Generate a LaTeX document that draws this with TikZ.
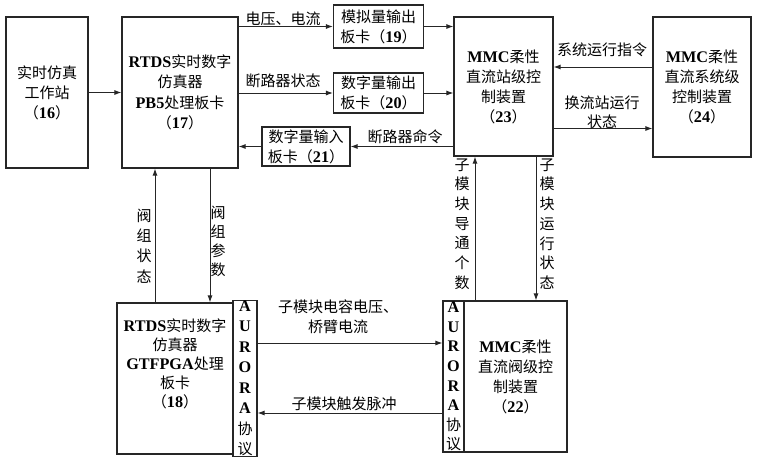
\documentclass[tikz,border=0pt]{standalone}
\usepackage{fontspec}
\setmainfont{Noto Sans CJK SC}
\newfontfamily\latin[Scale=1.08]{Liberation Serif}
\usetikzlibrary{arrows.meta}
\newcommand\B[1]{{\latin\bfseries #1}}
\newcommand\Num[1]{（\B{#1}）}
\begin{document}
\begin{tikzpicture}[x=1pt,y=-1pt,
  box/.style={draw=black!85,line width=1.1pt,inner sep=0pt,align=center},
  arr/.style={draw=black!85,line width=1pt,-{Latex[length=7pt,width=5pt]}},
  lab/.style={inner sep=0pt,align=center},
  every node/.style={font=\fontsize{15}{20}\selectfont}]
\useasboundingbox (0,0) rectangle (758,456);
% boxes
\node[box,minimum width=82pt,minimum height=151pt] (n16) at (47,92.5) {实时仿真\\工作站\\\Num{16}};
\node[box,minimum width=116pt,minimum height=151pt,font=\fontsize{15}{20.5}\selectfont] (n17) at (180,92.5) {\B{RTDS}实时数字\\仿真器\\\B{PB5}处理板卡\\\Num{17}};
\node[box,minimum width=90pt,minimum height=43pt] (n19) at (378.5,26.5) {模拟量输出\\板卡\Num{19}};
\node[box,minimum width=90pt,minimum height=40pt] (n20) at (378.5,93) {数字量输出\\板卡\Num{20}};
\node[box,minimum width=88pt,minimum height=39pt] (n21) at (306,146.5) {数字量输入\\板卡\Num{21}};
\node[box,minimum width=99pt,minimum height=139pt] (n23) at (503.5,86.5) {\B{MMC}柔性\\直流站级控\\制装置\\\Num{23}};
\node[box,minimum width=98pt,minimum height=140pt] (n24) at (702,87) {\B{MMC}柔性\\直流系统级\\控制装置\\\Num{24}};
\node[box,minimum width=116pt,minimum height=151pt] (n18) at (175,378.5) {};
\node[lab,font=\fontsize{15}{19}\selectfont] (t18) at (175,364) {\B{RTDS}实时数字\\仿真器\\\B{GTFPGA}处理\\板卡\\\Num{18}};
\node[box,minimum width=24pt,minimum height=151pt,font=\fontsize{15}{20.5}\selectfont] (a18) at (245,378.5) {\B{A}\\\B{U}\\\B{R}\\\B{O}\\\B{R}\\\B{A}\\协\\议};
\node[box,minimum width=21pt,minimum height=151pt,font=\fontsize{15}{19.6}\selectfont] (a22) at (453.5,376.5) {\B{A}\\\B{U}\\\B{R}\\\B{O}\\\B{R}\\\B{A}\\协\\议};
\node[box,minimum width=103pt,minimum height=151pt] (n22) at (515.5,376.5) {\B{MMC}柔性\\直流阀级控\\制装置\\\Num{22}};
% connectors
\draw[arr] (n16.east |- n17) -- (n17.west);
\draw[arr] (n17.east |- n19) -- (n19.west);
\draw[arr] (n17.east |- n20) -- (n20.west);
\draw[arr] (n19.east) -- (n23.west |- n19);
\draw[arr] (n20.east) -- (n23.west |- n20);
\draw[arr] (n23.west |- n21) -- (n21.east);
\draw[arr] (n21.west) -- (n17.east |- n21);
\draw[arr] ([yshift=20pt]n24.west) -- ([yshift=20pt]n24.west -| n23.east);
\draw[arr] ([yshift=-42pt]n23.east) -- ([yshift=-42pt]n23.east -| n24.west);
\draw[arr] ([xshift=-20pt]n18.north) -- ([xshift=-20pt]n18.north |- n17.south);
\draw[arr] ([xshift=35pt]n17.south -| n18.north) -- ([xshift=35pt]n18.north);
\draw[arr] ([xshift=-40.5pt]n22.north) -- ([xshift=-40.5pt]n22.north |- n23.south);
\draw[arr] ([xshift=20.5pt]n22.north |- n23.south) -- ([xshift=20.5pt]n22.north);
\draw[arr] ([yshift=35.5pt]a18.east) -- ([yshift=35.5pt]a18.east -| a22.west);
\draw[arr] ([yshift=-36.5pt]a22.west) -- ([yshift=-36.5pt]a22.west -| a18.east);
% labels
\node[lab] (l1) at (283,19) {电压、电流};
\node[lab] (l2) at (283,81) {断路器状态};
\node[lab] (l3) at (405,137) {断路器命令};
\node[lab] (l4) at (602,50) {系统运行指令};
\node[lab,font=\fontsize{15}{19}\selectfont] (l5) at (602,112.5) {换流站运行\\状态};
\node[lab,font=\fontsize{15}{20}\selectfont] (l6) at (338,317) {子模块电容电压、\\桥臂电流};
\node[lab] (l7) at (344,404) {子模块触发脉冲};
\node[lab,font=\fontsize{15}{20.3}\selectfont] (l8) at (144,246) {阀\\组\\状\\态};
\node[lab,font=\fontsize{15}{19}\selectfont] (l9) at (218,241) {阀\\组\\参\\数};
\node[lab,font=\fontsize{15}{19.7}\selectfont] (l10) at (462,224) {子\\模\\块\\导\\通\\个\\数};
\node[lab,font=\fontsize{15}{19.7}\selectfont] (l11) at (547,224) {子\\模\\块\\运\\行\\状\\态};
\end{tikzpicture}
\end{document}
